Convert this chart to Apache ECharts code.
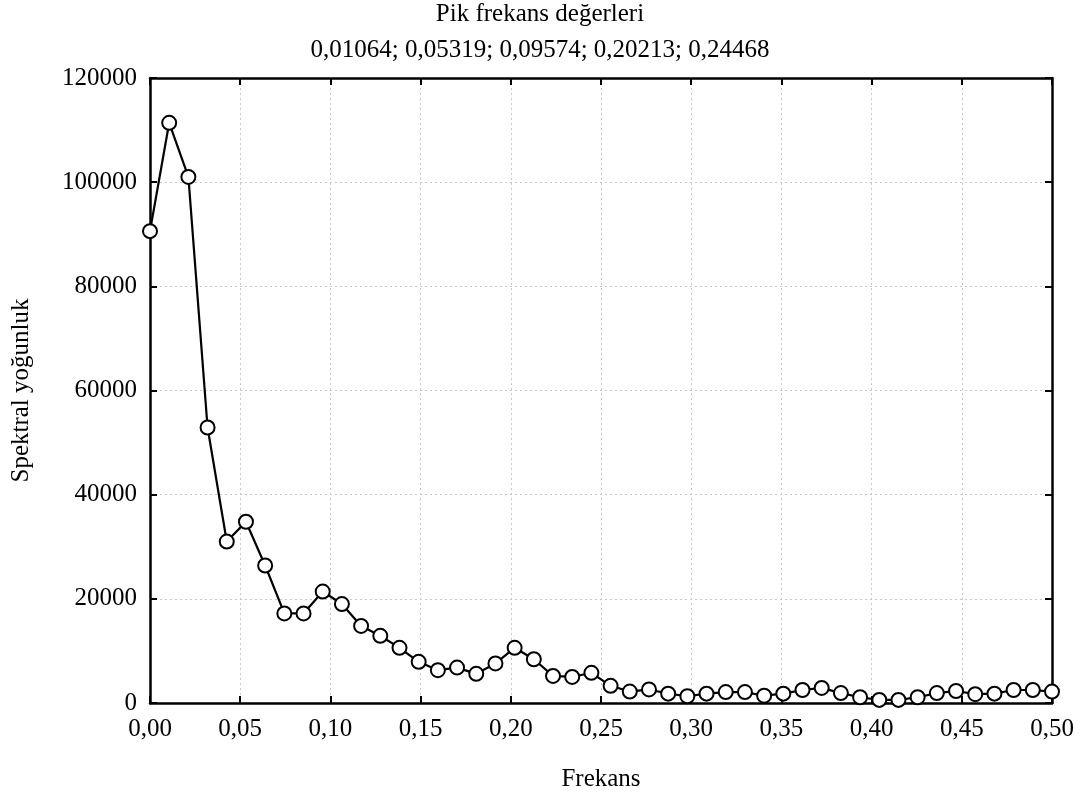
<!DOCTYPE html>
<html>
<head>
<meta charset="utf-8">
<script src="https://cdn.jsdelivr.net/npm/echarts@6/dist/echarts.min.js"></script>
<style>html,body{margin:0;padding:0;background:#fff;}#c{width:1080px;height:797px;}</style>
</head>
<body>
<div id="c"></div>
<script>
var titleLine1 = 'Pik frekans değerleri';
var titleLine2 = '0,01064; 0,05319; 0,09574; 0,20213; 0,24468';
var xName = 'Frekans';
var yName = 'Spektral yoğunluk';

var frequencies = [0, 0.01064, 0.02128, 0.03191, 0.04255, 0.05319, 0.06383, 0.07447, 0.08511, 0.09574,
  0.10638, 0.11702, 0.12766, 0.13830, 0.14894, 0.15957, 0.17021, 0.18085, 0.19149, 0.20213,
  0.21277, 0.22340, 0.23404, 0.24468, 0.25532, 0.26596, 0.27660, 0.28723, 0.29787, 0.30851,
  0.31915, 0.32979, 0.34043, 0.35106, 0.36170, 0.37234, 0.38298, 0.39362, 0.40426, 0.41489,
  0.42553, 0.43617, 0.44681, 0.45745, 0.46809, 0.47872, 0.48936, 0.50000];

var density = [90600, 111400, 101000, 52900, 31000, 34800, 26400, 17200, 17200, 21400,
  19000, 14800, 12900, 10600, 7900, 6300, 6800, 5600, 7600, 10600,
  8400, 5200, 5000, 5800, 3300, 2200, 2600, 1800, 1300, 1800,
  2100, 2100, 1400, 1800, 2500, 2900, 1900, 1100, 600, 600,
  1100, 1900, 2300, 1700, 1800, 2500, 2500, 2200];

var xTicks = {min: 0, max: 0.5, interval: 0.05};
var yTicks = {min: 0, max: 120000, interval: 20000};

var FONT = 'Liberation Serif';
var FS = 25;
var points = frequencies.map(function (f, i) { return [f, density[i]]; });

var axisLineStyle = {show: true, onZero: false, lineStyle: {color: '#000', width: 2.5}};
var tickStyle = {show: true, inside: true, length: 7, lineStyle: {color: '#000', width: 2}};
var gridLine = {show: true, lineStyle: {color: '#c8c8c8', type: [2, 3], width: 1}};

var chart = echarts.init(document.getElementById('c'));
chart.setOption({
  animation: false,
  backgroundColor: '#fff',
  title: {
    text: titleLine1 + '\n' + titleLine2,
    left: 'center', top: -4, padding: 0,
    textStyle: {fontFamily: FONT, fontSize: FS, fontWeight: 'normal', color: '#000', lineHeight: 36}
  },
  grid: {left: 150, right: 28, top: 78, bottom: 94, containLabel: false, outerBoundsMode: 'none'},
  xAxis: [{
    type: 'value', position: 'bottom',
    min: xTicks.min, max: xTicks.max, interval: xTicks.interval,
    name: xName, nameLocation: 'middle', nameGap: 64,
    nameTextStyle: {fontFamily: FONT, fontSize: FS, color: '#000'},
    axisLine: axisLineStyle, axisTick: tickStyle,
    axisLabel: {fontFamily: FONT, fontSize: FS, color: '#000', margin: 14,
      formatter: function (v) { return v.toFixed(2).replace('.', ','); }},
    splitLine: gridLine
  }, {
    type: 'value', position: 'top',
    min: xTicks.min, max: xTicks.max, interval: xTicks.interval,
    axisLine: axisLineStyle, axisTick: tickStyle,
    axisLabel: {show: false}, splitLine: {show: false}
  }],
  yAxis: [{
    type: 'value', position: 'left',
    min: yTicks.min, max: yTicks.max, interval: yTicks.interval,
    name: yName, nameLocation: 'middle', nameGap: 116, nameRotate: 90,
    nameTextStyle: {fontFamily: FONT, fontSize: FS, color: '#000'},
    axisLine: axisLineStyle, axisTick: tickStyle,
    axisLabel: {fontFamily: FONT, fontSize: FS, color: '#000', margin: 13,
      formatter: function (v) { return String(v); }},
    splitLine: gridLine
  }, {
    type: 'value', position: 'right',
    min: yTicks.min, max: yTicks.max, interval: yTicks.interval,
    axisLine: axisLineStyle, axisTick: tickStyle,
    axisLabel: {show: false}, splitLine: {show: false}
  }],
  series: [{
    type: 'line',
    data: points,
    xAxisIndex: 0, yAxisIndex: 0,
    symbol: 'circle', symbolSize: 14,
    showAllSymbol: true,
    lineStyle: {color: '#000', width: 2.2},
    itemStyle: {color: '#fff', borderColor: '#000', borderWidth: 2},
    z: 5
  }]
});
</script>
</body>
</html>
